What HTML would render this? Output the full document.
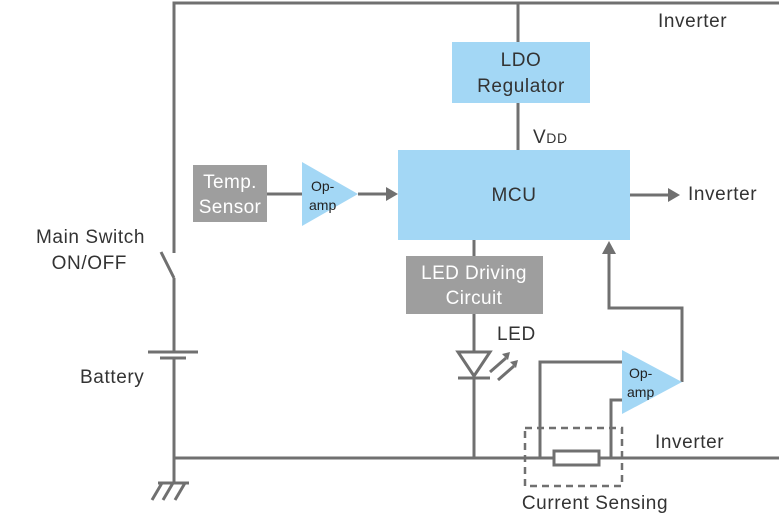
<!DOCTYPE html>
<html><head><meta charset="utf-8"><style>
html,body{margin:0;padding:0;background:#fff;}
svg{display:block;font-family:"Liberation Sans","DejaVu Sans",sans-serif;}
</style></head><body>
<svg width="779" height="515" viewBox="0 0 779 515" xmlns="http://www.w3.org/2000/svg">
<g stroke="#707070" stroke-width="3" fill="none">
<polyline points="174,253 174,3 779,3"/>
<line x1="161" y1="252" x2="174" y2="278"/>
<line x1="174" y1="278" x2="174" y2="352"/>
<line x1="148" y1="352" x2="198" y2="352"/>
<line x1="160" y1="358" x2="186" y2="358"/>
<line x1="174" y1="358" x2="174" y2="483"/>
<line x1="174" y1="458" x2="779" y2="458"/>
<line x1="158" y1="483" x2="189" y2="483"/>
<line x1="162" y1="483" x2="152" y2="500"/>
<line x1="173" y1="483" x2="163" y2="500"/>
<line x1="185" y1="483" x2="175" y2="500"/>
<line x1="518" y1="3" x2="518" y2="150"/>
<line x1="630" y1="195" x2="668" y2="195"/>
<line x1="267" y1="194" x2="302" y2="194"/>
<line x1="358" y1="194" x2="386" y2="194"/>
<line x1="474" y1="240" x2="474" y2="458"/>
<line x1="458" y1="378" x2="490" y2="378"/>
<line x1="490" y1="372" x2="506" y2="358"/>
<line x1="498" y1="380" x2="514" y2="366"/>
<polyline points="682,382 682,308 609,308 609,254"/>
<polyline points="540,458 540,362 622,362"/>
<polyline points="611,458 611,400 622,400"/>
</g>
<polygon points="458,352 490,352 474,376" fill="#fff" stroke="#707070" stroke-width="3"/>
<polygon points="668,188 680,195 668,202" fill="#707070"/>
<polygon points="386,187 398,194 386,201" fill="#707070"/>
<polygon points="602,254 609,241 616,254" fill="#707070"/>
<polygon points="502,354 510,352 508,360" fill="#707070"/>
<polygon points="510,362 518,360 516,368" fill="#707070"/>
<rect x="554" y="451" width="45" height="14" fill="#fff" stroke="#707070" stroke-width="3"/>
<rect x="525" y="428" width="97" height="58" fill="none" stroke="#707070" stroke-width="2.5" stroke-dasharray="7,5"/>
<rect x="452" y="42" width="138" height="61" fill="#a3d7f5"/>
<rect x="398" y="150" width="232" height="90" fill="#a3d7f5"/>
<rect x="193" y="165" width="74" height="57" fill="#9e9e9e"/>
<rect x="406" y="256" width="137" height="58" fill="#9e9e9e"/>
<polygon points="302,162 302,226 358,194" fill="#a3d7f5"/>
<polygon points="622,350 622,414 682,382" fill="#a3d7f5"/>
<g font-size="19" fill="#333" letter-spacing="0.6">
<text x="521" y="66" text-anchor="middle">LDO</text>
<text x="521" y="92" text-anchor="middle">Regulator</text>
<text x="514" y="201" text-anchor="middle">MCU</text>
<text x="533" y="143">V<tspan font-size="14">DD</tspan></text>
<text x="688" y="200">Inverter</text>
<text x="658" y="27">Inverter</text>
<text x="655" y="448">Inverter</text>
<text x="595" y="509" text-anchor="middle">Current Sensing</text>
<text x="145" y="243" text-anchor="end">Main Switch</text>
<text x="127" y="269" text-anchor="end">ON/OFF</text>
<text x="80" y="383">Battery</text>
<text x="497" y="340">LED</text>
</g>
<g font-size="19" fill="#fff" text-anchor="middle" letter-spacing="0.4">
<text x="230" y="188">Temp.</text>
<text x="230" y="213">Sensor</text>
<text x="474" y="279">LED Driving</text>
<text x="474" y="304">Circuit</text>
</g>
<g font-size="14" fill="#222">
<text x="311" y="191">Op-</text>
<text x="309" y="210">amp</text>
<text x="629" y="378">Op-</text>
<text x="627" y="397">amp</text>
</g>
</svg>
</body></html>
